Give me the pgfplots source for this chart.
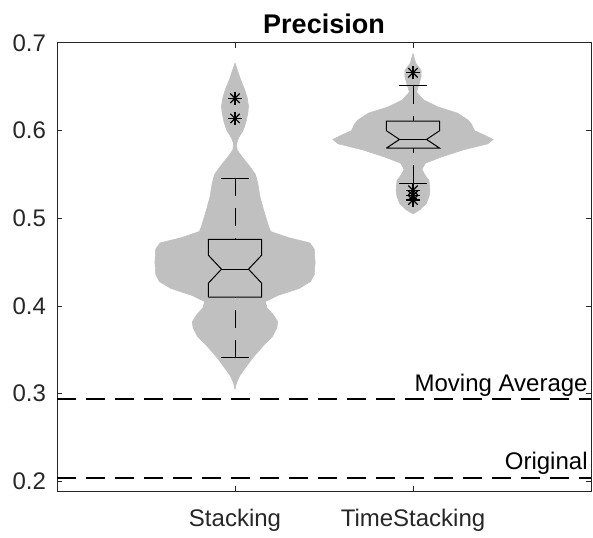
\documentclass[border=0pt]{standalone}
\usepackage{pgfplots}
\pgfplotsset{compat=1.18}
\usepackage{pgfplotstable}
\usepackage{fontspec}
\setmainfont{Liberation Sans}
\definecolor{vgray}{RGB}{192,192,192}
\definecolor{axgray}{RGB}{38,38,38}

% Stacking violin: y, half-width
\pgfplotstableread{
y w
0.305 0.000
0.312 0.008
0.320 0.025
0.330 0.060
0.341 0.100
0.355 0.160
0.365 0.210
0.375 0.235
0.382 0.240
0.390 0.215
0.398 0.180
0.405 0.170
0.412 0.240
0.420 0.360
0.428 0.425
0.436 0.445
0.450 0.450
0.465 0.445
0.472 0.420
0.478 0.300
0.485 0.200
0.490 0.190
0.500 0.175
0.510 0.160
0.525 0.140
0.540 0.128
0.550 0.115
0.560 0.080
0.570 0.040
0.578 0.012
0.585 0.008
0.592 0.020
0.600 0.045
0.610 0.062
0.620 0.072
0.628 0.076
0.638 0.068
0.648 0.052
0.658 0.032
0.668 0.015
0.677 0.000
}\violinA

% TimeStacking violin: y, half-width
\pgfplotstableread{
y w
0.505 0.000
0.510 0.040
0.517 0.075
0.525 0.090
0.532 0.095
0.543 0.090
0.550 0.065
0.556 0.050
0.563 0.070
0.570 0.160
0.578 0.280
0.585 0.420
0.590 0.450
0.595 0.400
0.600 0.345
0.607 0.330
0.612 0.310
0.620 0.250
0.627 0.140
0.635 0.060
0.644 0.020
0.654 0.035
0.661 0.045
0.669 0.045
0.677 0.015
0.688 0.000
}\violinB

\begin{document}
\begin{tikzpicture}
\begin{axis}[
  width=267pt, height=224pt, scale only axis,
  xmin=0, xmax=3, ymin=0.189, ymax=0.7,
  xtick={1,2}, xticklabels={Stacking,TimeStacking},
  ytick={0.2,0.3,0.4,0.5,0.6,0.7},
  yticklabel style={/pgf/number format/fixed, /pgf/number format/precision=1, /pgf/number format/fixed zerofill, anchor=east, xshift=-2pt},
  xticklabel style={anchor=base, yshift=-17.5pt},
  /pgf/number format/assume math mode=true,
  tick label style={font=\fontsize{12}{14}\selectfont, text=axgray},
  title={Precision},
  title style={font=\fontsize{13.5}{16}\selectfont\bfseries, at={(0.5,1)}, anchor=base, yshift=-1.5pt},
  axis line style={axgray, line width=0.5pt},
  major tick length=2.5pt,
  tick style={axgray, line width=0.5pt},
]
% violins
\addplot[fill=vgray, draw=vgray, line width=0.3pt] table[x expr={1+\thisrow{w}}, y=y] {\violinA};
\addplot[fill=vgray, draw=vgray, line width=0.3pt] table[x expr={1-\thisrow{w}}, y=y] {\violinA};
\addplot[fill=vgray, draw=vgray, line width=0.3pt] table[x expr={2+\thisrow{w}}, y=y] {\violinB};
\addplot[fill=vgray, draw=vgray, line width=0.3pt] table[x expr={2-\thisrow{w}}, y=y] {\violinB};

% notched boxes
\addplot[black, line width=0.5pt] coordinates {(0.85,0.410) (1.15,0.410) (1.15,0.426) (1.076,0.442) (1.15,0.458) (1.15,0.476) (0.85,0.476) (0.85,0.458) (0.924,0.442) (0.85,0.426) (0.85,0.410)};
\addplot[black, line width=0.5pt] coordinates {(0.924,0.442) (1.076,0.442)};
\addplot[black, line width=0.5pt] coordinates {(1.85,0.580) (2.15,0.580) (2.076,0.590) (2.15,0.600) (2.15,0.611) (1.85,0.611) (1.85,0.600) (1.924,0.590) (1.85,0.580)};
\addplot[black, line width=0.5pt] coordinates {(1.924,0.590) (2.076,0.590)};

% whiskers
\addplot[black, line width=0.5pt, dash pattern=on 9pt off 6pt] coordinates {(1,0.341) (1,0.410)};
\addplot[black, line width=0.5pt, dash pattern=on 9pt off 6pt] coordinates {(1,0.546) (1,0.476)};
\addplot[black, line width=0.5pt, dash pattern=on 9pt off 6pt] coordinates {(2,0.540) (2,0.580)};
\addplot[black, line width=0.5pt, dash pattern=on 9pt off 6pt] coordinates {(2,0.651) (2,0.611)};
\addplot[black, line width=0.5pt] coordinates {(0.924,0.341) (1.076,0.341)};
\addplot[black, line width=0.5pt] coordinates {(0.924,0.546) (1.076,0.546)};
\addplot[black, line width=0.5pt] coordinates {(1.924,0.540) (2.076,0.540)};
\addplot[black, line width=0.5pt] coordinates {(1.924,0.651) (2.076,0.651)};

% outliers
\addplot[only marks, mark=+, mark size=3.3pt, black, mark options={line width=0.6pt}] coordinates {(1,0.637) (1,0.614) (2,0.666) (2,0.532) (2,0.526) (2,0.521)};
\addplot[only marks, mark=x, mark size=3.3pt, black, mark options={line width=0.6pt}] coordinates {(1,0.637) (1,0.614) (2,0.666) (2,0.532) (2,0.526) (2,0.521)};

% reference lines
\addplot[black, line width=1pt, dash pattern=on 9.5pt off 5pt] coordinates {(0,0.2935) (3,0.2935)};
\addplot[black, line width=1pt, dash pattern=on 9.5pt off 5pt] coordinates {(0,0.2035) (3,0.2035)};
\node[anchor=south east, inner sep=1.5pt, font=\fontsize{12}{14}\selectfont] at (axis cs:3,0.2935) {Moving Average};
\node[anchor=south east, inner sep=1.5pt, font=\fontsize{12}{14}\selectfont] at (axis cs:3,0.2035) {Original};
\end{axis}
\path ([xshift=-28.5pt,yshift=-23pt]current axis.south west) ([xshift=1pt,yshift=21.5pt]current axis.north east);
\end{tikzpicture}
\end{document}
